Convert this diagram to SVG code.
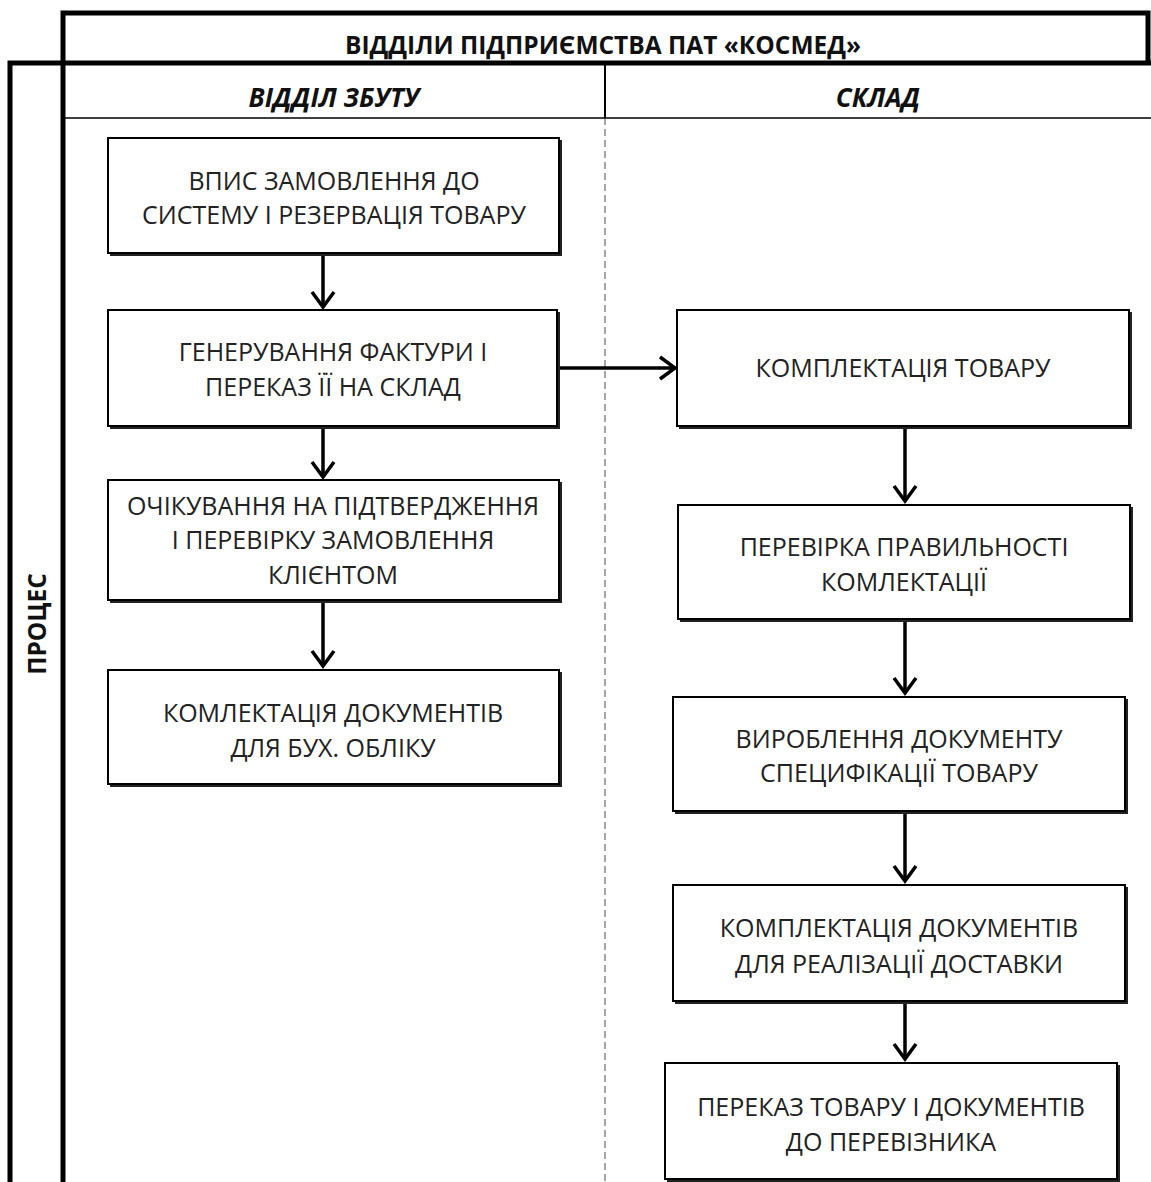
<svg xmlns="http://www.w3.org/2000/svg" width="1151" height="1182" viewBox="0 0 1151 1182">
<defs>
<marker id="arr" markerWidth="22" markerHeight="26" refX="18" refY="13" orient="auto" markerUnits="userSpaceOnUse">
<path d="M3,2 L18,13 L3,24" fill="none" stroke="#000" stroke-width="3.5"/>
</marker>
</defs>
<style>
.box{fill:#fff;stroke:#000;stroke-width:2}
.shadow{fill:#222}
.t{font-family:"Open Sans","Liberation Sans",sans-serif;font-size:25px;fill:#222;text-anchor:middle}
.h{font-family:"Open Sans","Liberation Sans",sans-serif;font-size:24.5px;font-weight:bold;fill:#111;text-anchor:middle}
.hi{font-family:"Open Sans","Liberation Sans",sans-serif;font-size:26px;font-weight:bold;font-style:italic;fill:#111;text-anchor:middle}
.conn{fill:none;stroke:#000;stroke-width:3.5;marker-end:url(#arr)}
</style>
<rect width="1151" height="1182" fill="#fff"/>
<g id="frame">
<line x1="605" y1="118" x2="605" y2="1182" stroke="#888" stroke-width="1.5" stroke-dasharray="7,4"/>
<line x1="63" y1="118" x2="1151" y2="118" stroke="#000" stroke-width="1.5"/>
<line x1="605" y1="65" x2="605" y2="118" stroke="#000" stroke-width="2"/>
<path d="M63,1182 V13 H1148 V65" fill="none" stroke="#000" stroke-width="5"/>
<path d="M10,1182 V63 H1151" fill="none" stroke="#000" stroke-width="5"/>
<text class="h" x="603" y="54">ВІДДІЛИ ПІДПРИЄМСТВА ПАТ «КОСМЕД»</text>
<text class="hi" x="334" y="107">ВІДДІЛ ЗБУТУ</text>
<text class="hi" x="878" y="107">СКЛАД</text>
<text class="h" transform="translate(46,624) rotate(-90)">ПРОЦЕС</text>
</g>
<g id="connectors">
<line class="conn" x1="323" y1="255" x2="323" y2="307"/>
<line class="conn" x1="323" y1="428" x2="323" y2="477"/>
<line class="conn" x1="323" y1="602" x2="323" y2="666"/>
<line class="conn" x1="559" y1="368" x2="675" y2="368"/>
<line class="conn" x1="905" y1="428" x2="905" y2="501"/>
<line class="conn" x1="905" y1="621" x2="905" y2="693"/>
<line class="conn" x1="905" y1="813" x2="905" y2="881"/>
<line class="conn" x1="905" y1="1003" x2="905" y2="1059"/>
</g>
<g id="n1">
<rect class="shadow" x="110" y="140" width="452" height="116"/>
<rect class="box" x="108" y="138" width="451" height="115"/>
<text class="t" x="334" y="190">ВПИС ЗАМОВЛЕННЯ ДО</text>
<text class="t" x="334" y="224">СИСТЕМУ І РЕЗЕРВАЦІЯ ТОВАРУ</text>
</g>
<g id="n2">
<rect class="shadow" x="110" y="312" width="450" height="117"/>
<rect class="box" x="108" y="310" width="449" height="116"/>
<text class="t" x="333" y="361">ГЕНЕРУВАННЯ ФАКТУРИ І</text>
<text class="t" x="333" y="396">ПЕРЕКАЗ ЇЇ НА СКЛАД</text>
</g>
<g id="n3">
<rect class="shadow" x="110" y="482" width="452" height="121"/>
<rect class="box" x="108" y="480" width="451" height="120"/>
<text class="t" x="333" y="515">ОЧІКУВАННЯ НА ПІДТВЕРДЖЕННЯ</text>
<text class="t" x="333" y="549">І ПЕРЕВІРКУ ЗАМОВЛЕННЯ</text>
<text class="t" x="333" y="584">КЛІЄНТОМ</text>
</g>
<g id="n4">
<rect class="shadow" x="110" y="672" width="452" height="115"/>
<rect class="box" x="108" y="670" width="451" height="114"/>
<text class="t" x="333" y="722">КОМЛЕКТАЦІЯ ДОКУМЕНТІВ</text>
<text class="t" x="333" y="757">ДЛЯ БУХ. ОБЛІКУ</text>
</g>
<g id="n5">
<rect class="shadow" x="679" y="312" width="453" height="117"/>
<rect class="box" x="677" y="310" width="452" height="116"/>
<text class="t" x="903" y="377">КОМПЛЕКТАЦІЯ ТОВАРУ</text>
</g>
<g id="n6">
<rect class="shadow" x="680" y="507" width="453" height="115"/>
<rect class="box" x="678" y="505" width="452" height="114"/>
<text class="t" x="904" y="556">ПЕРЕВІРКА ПРАВИЛЬНОСТІ</text>
<text class="t" x="904" y="591">КОМЛЕКТАЦІЇ</text>
</g>
<g id="n7">
<rect class="shadow" x="675" y="699" width="453" height="115"/>
<rect class="box" x="673" y="697" width="452" height="114"/>
<text class="t" x="899" y="748">ВИРОБЛЕННЯ ДОКУМЕНТУ</text>
<text class="t" x="899" y="782">СПЕЦИФІКАЦІЇ ТОВАРУ</text>
</g>
<g id="n8">
<rect class="shadow" x="675" y="887" width="453" height="117"/>
<rect class="box" x="673" y="885" width="452" height="116"/>
<text class="t" x="899" y="937">КОМПЛЕКТАЦІЯ ДОКУМЕНТІВ</text>
<text class="t" x="899" y="973">ДЛЯ РЕАЛІЗАЦІЇ ДОСТАВКИ</text>
</g>
<g id="n9">
<rect class="shadow" x="667" y="1065" width="453" height="117"/>
<rect class="box" x="665" y="1063" width="452" height="116"/>
<text class="t" x="891" y="1116">ПЕРЕКАЗ ТОВАРУ І ДОКУМЕНТІВ</text>
<text class="t" x="891" y="1151">ДО ПЕРЕВІЗНИКА</text>
</g>
</svg>
